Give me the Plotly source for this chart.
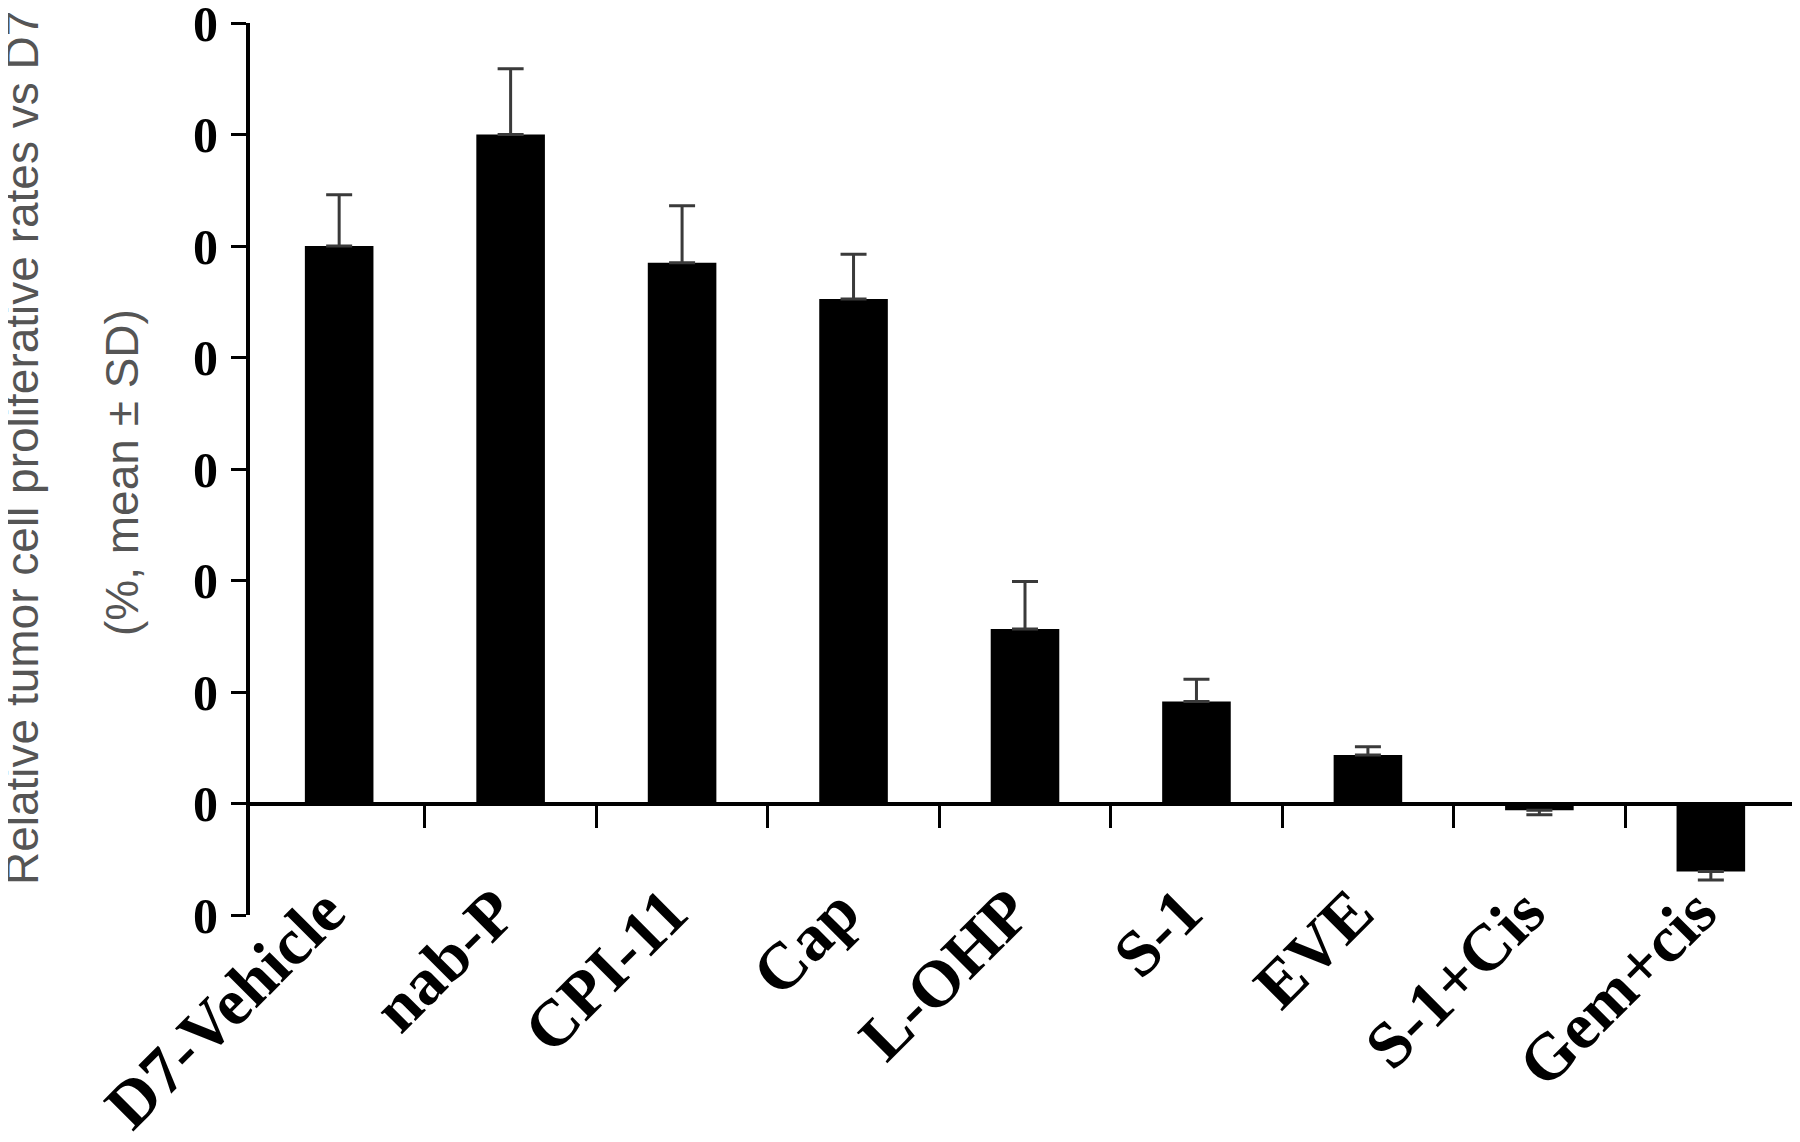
import plotly.graph_objects as go

# ---- data ----
categories = ["D7-Vehicle", "nab-P", "CPI-11", "Cap", "L-OHP", "S-1", "EVE", "S-1+Cis", "Gem+cis"]
values = [100, 120, 97, 90.5, 31.3, 18.3, 8.7, -1.2, -12.2]
errors = [9.2, 11.8, 10.2, 8.0, 8.5, 4.0, 1.5, 0.8, 1.5]
y_tickvals = [-20, 0, 20, 40, 60, 80, 100, 120, 140]
y_ticktext = ["0", "0", "0", "0", "0", "0", "0", "0", "0"]
title_line1 = "Relative tumor cell proliferative rates vs D7"
title_line2 = "(%, mean ± SD)"

err_plus = [e if v >= 0 else 0 for v, e in zip(values, errors)]
err_minus = [e if v < 0 else 0 for v, e in zip(values, errors)]

n = len(categories)
x_range = [-0.52, n - 0.48]
boundaries = [i + 0.5 for i in range(n)]

serif_bold = "Liberation Serif, Times New Roman, serif"
sans = "Liberation Sans, Arial, sans-serif"

fig = go.Figure()
fig.add_trace(go.Bar(
    x=categories, y=values, width=0.4,
    marker=dict(color="black", line=dict(width=0)),
    error_y=dict(type="data", symmetric=False, array=err_plus, arrayminus=err_minus,
                 color="#3a3a3a", thickness=3, width=13),
    showlegend=False,
))
# invisible helper trace on the zero-line axis
fig.add_trace(go.Scatter(x=[boundaries[0]], y=[0], xaxis="x2", mode="markers",
                         marker=dict(opacity=0), showlegend=False, hoverinfo="skip"))

fig.update_layout(
    width=1800, height=1142,
    margin=dict(l=242, r=8, t=15, b=235, autoexpand=False),
    plot_bgcolor="white", paper_bgcolor="white",
    xaxis=dict(
        type="category", range=x_range, showline=False, showgrid=False, zeroline=False,
        anchor="free", position=0.063,
        ticks="", tickangle=-45, automargin=False, ticklabelshift=-14,
        ticklabeloverflow="allow",
        tickfont=dict(family=serif_bold, size=66, color="black", weight="bold"),
    ),
    xaxis2=dict(
        overlaying="x", anchor="free", position=20 / 160, side="bottom",
        range=x_range, showline=True, linecolor="black", linewidth=4,
        showgrid=False, zeroline=False, showticklabels=False, automargin=False,
        tickmode="array", tickvals=boundaries, ticks="outside", ticklen=22,
        tickwidth=3, tickcolor="black",
    ),
    yaxis=dict(
        range=[-20, 140], tickmode="array", tickvals=y_tickvals, ticktext=y_ticktext,
        showline=True, linecolor="black", linewidth=4, showgrid=False, zeroline=False,
        ticks="outside", ticklen=15, tickwidth=3, tickcolor="black",
        ticklabelstandoff=3, automargin=False, ticklabeloverflow="allow",
        tickfont=dict(family=serif_bold, size=50, color="black", weight="bold"),
    ),
    annotations=[
        dict(text=title_line1, textangle=-90, xref="paper", yref="paper",
             x=-0.1471, y=0.5235, showarrow=False, xanchor="center", yanchor="middle",
             font=dict(family=sans, size=46, color="#555555")),
        dict(text=title_line2, textangle=-90, xref="paper", yref="paper",
             x=-0.0826, y=0.4966, showarrow=False, xanchor="center", yanchor="middle",
             font=dict(family=sans, size=46, color="#555555")),
    ],
)

fig.write_html("out.html")
